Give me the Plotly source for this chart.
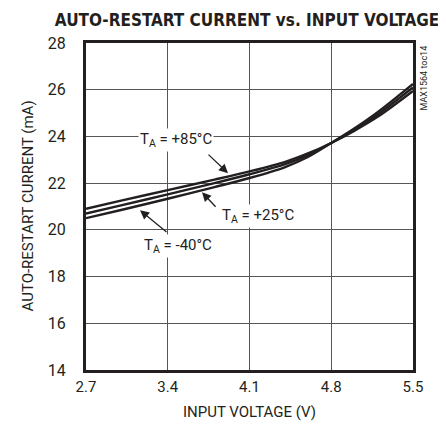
import plotly.graph_objects as go

voltage = [2.7, 3.0, 3.4, 3.8, 4.1, 4.4, 4.6, 4.8, 5.0, 5.2, 5.5]
i_85 = [20.9, 21.25, 21.7, 22.15, 22.5, 22.9, 23.27, 23.72, 24.25, 24.85, 25.95]
i_25 = [20.7, 21.05, 21.52, 22.0, 22.38, 22.8, 23.2, 23.72, 24.3, 24.95, 26.1]
i_m40 = [20.5, 20.85, 21.33, 21.83, 22.22, 22.68, 23.12, 23.72, 24.35, 25.05, 26.25]
x_ticks = [2.7, 3.4, 4.1, 4.8, 5.5]
y_ticks = [14, 16, 18, 20, 22, 24, 26, 28]

FONT = "Roboto, DejaVu Sans Condensed, sans-serif"
TFONT = "DejaVu Sans Condensed, Roboto, sans-serif"
INK = "#231f20"

fig = go.Figure()
for ys in (i_85, i_25, i_m40):
    fig.add_trace(go.Scatter(x=voltage, y=ys, mode="lines",
                             line=dict(color=INK, width=2.4, shape="spline", smoothing=0.9),
                             showlegend=False, hoverinfo="skip"))

def px2v(px):
    return 2.7 + (px - 86) / 327 * 2.8

def py2i(py):
    return 28 - (py - 43) / 326.5 * 14

def label(text, hx, hy, tx_, ty_, lx, ly):
    fig.add_annotation(x=px2v(hx), y=py2i(hy), ax=px2v(tx_), ay=py2i(ty_),
                       xref="x", yref="y", axref="x", ayref="y",
                       showarrow=True, arrowhead=2, arrowsize=1.4, arrowwidth=1.3,
                       arrowcolor=INK, text="")
    fig.add_annotation(x=px2v(lx), y=py2i(ly), xref="x", yref="y", text=text, showarrow=False,
                       font=dict(family=FONT, size=15, color=INK), bgcolor="white",
                       borderpad=1)

label("T<sub>A</sub> = +85°C", 228, 173, 207, 153, 176, 140)
label("T<sub>A</sub> = +25°C", 202, 192, 217, 208, 258, 216)
label("T<sub>A</sub> = -40°C", 140, 210, 168, 233, 178, 246)

fig.add_annotation(x=1.0, y=1.0, xref="paper", yref="paper", xanchor="left", yanchor="top",
                   xshift=3, yshift=-1, text="MAX1564 toc14", textangle=-90, showarrow=False,
                   font=dict(family=FONT, size=9, color=INK))

# axis titles
fig.add_annotation(x=0.5, y=0, xref="paper", yref="paper", yanchor="middle", yshift=-42,
                   text="INPUT VOLTAGE (V)", showarrow=False,
                   font=dict(family=FONT, size=15, color=INK))
fig.add_annotation(x=0, y=0.5, xref="paper", yref="paper", xanchor="center", xshift=-59,
                   text="AUTO-RESTART CURRENT (mA)", textangle=-90, showarrow=False,
                   font=dict(family=FONT, size=15, color=INK))

fig.update_layout(
    width=430, height=414,
    margin=dict(l=78, r=25, t=35, b=52),
    paper_bgcolor="white", plot_bgcolor="white",
    title=dict(text="<b>AUTO-RESTART CURRENT vs. INPUT VOLTAGE</b>", x=0.556, xanchor="center",
               y=0.971, yanchor="middle", font=dict(family=TFONT, size=17, color=INK)),
    font=dict(family=FONT, size=15, color=INK),
)
fig.update_xaxes(range=[2.7, 5.5], tickvals=x_ticks, ticktext=[f"{v:.1f}" for v in x_ticks],
                 showgrid=True, gridcolor="#555555", gridwidth=1, zeroline=False,
                 showline=True, linecolor=INK, linewidth=3, mirror=True, ticks="",
                 ticklabelstandoff=1, tickfont=dict(size=15), automargin=False)
fig.update_yaxes(range=[14, 28], tickvals=y_ticks,
                 showgrid=True, gridcolor="#555555", gridwidth=1, zeroline=False,
                 showline=True, linecolor=INK, linewidth=3, mirror=True, ticks="",
                 ticklabelstandoff=14, tickfont=dict(size=16), automargin=False)

fig.write_html("out.html")
